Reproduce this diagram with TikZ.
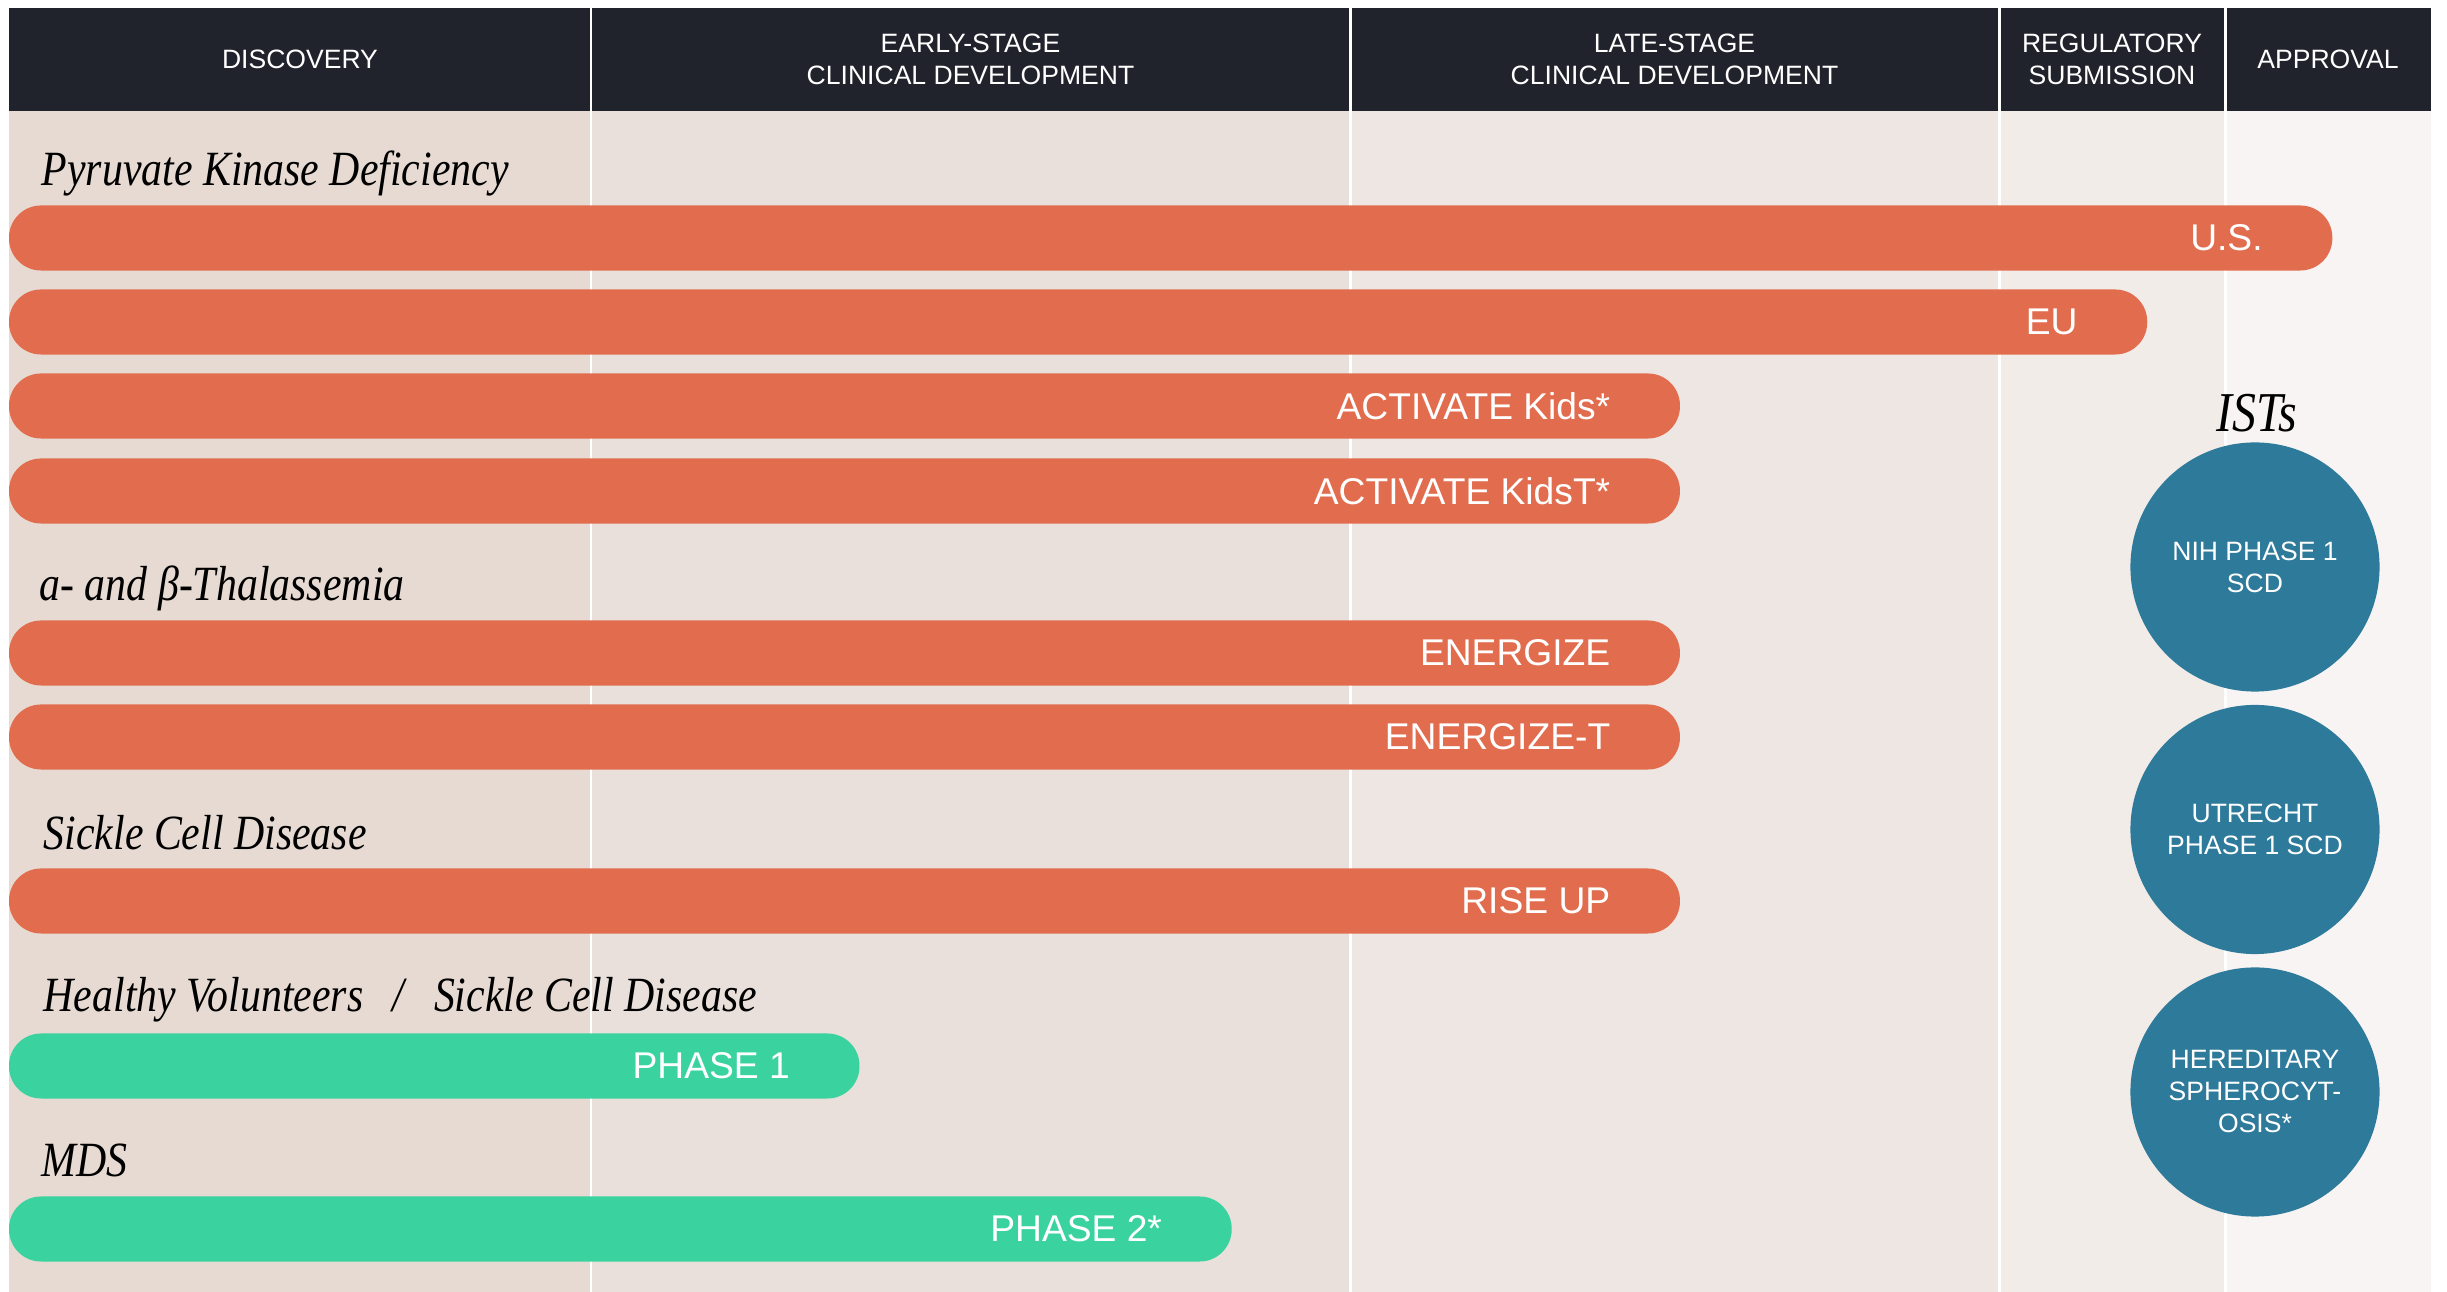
\documentclass[tikz,border=0pt]{standalone}
\usepackage{fontspec}
\setmainfont{Liberation Sans}
\newfontfamily\catfont{Liberation Serif}[FakeStretch=0.85]
\definecolor{hdr}{HTML}{20232C}
\definecolor{c1}{HTML}{E6DAD2}
\definecolor{c2}{HTML}{E9E0DB}
\definecolor{c3}{HTML}{EEE6E3}
\definecolor{c4}{HTML}{F1ECE8}
\definecolor{c5}{HTML}{F8F4F3}
\definecolor{orng}{HTML}{E26D4E}
\definecolor{grn}{HTML}{3AD39F}
\definecolor{blu}{HTML}{2E7A9B}
\begin{document}
\begin{tikzpicture}[x=0.01cm,y=-0.01cm,
  hdrtext/.style={text=white, font=\fontsize{7.55}{9.1}\selectfont, align=center, inner sep=0},
  bar/.style={rounded corners=0.32cm, minimum height=0.65cm, inner sep=0, outer sep=0, anchor=west},
  obar/.style={bar, fill=orng},
  gbar/.style={bar, fill=grn},
  barlbl/.style={anchor=east, inner sep=0, text=white, font=\fontsize{10.58}{12}\selectfont},
  cat/.style={anchor=base west, inner sep=0, font={\catfont\fontsize{14}{16}\selectfont\itshape}},
  circ/.style={circle, fill=blu, minimum size=2.49cm, inner sep=0, align=center, text=white, font=\fontsize{7.55}{9.1}\selectfont}]
\useasboundingbox (0,0) rectangle (2447,1292);
% column backgrounds
\fill[c1] (9,111) rectangle (591,1292);
\fill[c2] (591,111) rectangle (1350,1292);
\fill[c3] (1350,111) rectangle (1999,1292);
\fill[c4] (1999,111) rectangle (2225,1292);
\fill[c5] (2225,111) rectangle (2431,1292);
\fill[hdr] (9,8) rectangle (2431,111);
\foreach \x in {591,1350,1999,2225} \draw[white, line width=0.85pt] (\x,8) -- (\x,1292);
% header
\node[hdrtext] (hdisc) at (300,59.5) {DISCOVERY};
\node[hdrtext] (hearly) at (970.5,59.5) {EARLY-STAGE\\CLINICAL DEVELOPMENT};
\node[hdrtext] (hlate) at (1674.5,59.5) {LATE-STAGE\\CLINICAL DEVELOPMENT};
\node[hdrtext] (hreg) at (2112,59.5) {REGULATORY\\SUBMISSION};
\node[hdrtext] (happ) at (2328,59.5) {APPROVAL};
% categories
\node[cat] (catpk) at (41,186) {Pyruvate Kinase Deficiency};
\node[cat] (catth) at (39,601) {a- and β-Thalassemia};
\node[cat] (catsc) at (43,850) {Sickle Cell Disease};
\node[cat] (cathv) at (43,1012) {Healthy Volunteers\hspace{0.6em}/\hspace{0.6em}Sickle Cell Disease};
\node[cat] (catmds) at (41,1177) {MDS};
\node[anchor=base, inner sep=0, font={\catfont\fontsize{16}{18}\selectfont\itshape}] (ists) at (2257,432) {ISTs};
% bars
\node[obar, minimum width=23.22cm] (barus) at (9,238) {};
\node[barlbl] (lblus) at ([xshift=-0.69cm]barus.east) {U.S.};
\node[obar, minimum width=21.37cm] (bareu) at (9,322) {};
\node[barlbl] (lbleu) at ([xshift=-0.69cm]bareu.east) {EU};
\node[obar, minimum width=16.70cm] (barak) at (9,406) {};
\node[barlbl] (lblak) at ([xshift=-0.69cm]barak.east) {ACTIVATE Kids*};
\node[obar, minimum width=16.70cm] (barakt) at (9,491) {};
\node[barlbl] (lblakt) at ([xshift=-0.69cm]barakt.east) {ACTIVATE KidsT*};
\node[obar, minimum width=16.70cm] (baren) at (9,653) {};
\node[barlbl] (lblen) at ([xshift=-0.69cm]baren.east) {ENERGIZE};
\node[obar, minimum width=16.70cm] (barent) at (9,737) {};
\node[barlbl] (lblent) at ([xshift=-0.69cm]barent.east) {ENERGIZE-T};
\node[obar, minimum width=16.70cm] (barru) at (9,901) {};
\node[barlbl] (lblru) at ([xshift=-0.69cm]barru.east) {RISE UP};
\node[gbar, minimum width=8.50cm] (barp1) at (9,1066) {};
\node[barlbl] (lblp1) at ([xshift=-0.69cm]barp1.east) {PHASE 1};
\node[gbar, minimum width=12.22cm] (barp2) at (9,1229) {};
\node[barlbl] (lblp2) at ([xshift=-0.69cm]barp2.east) {PHASE 2*};
% circles
\node[circ] (nih) at (2255,567) {NIH PHASE 1\\SCD};
\node[circ] (utr) at (2255,829.5) {UTRECHT\\PHASE 1 SCD};
\node[circ] (hs) at (2255,1092) {HEREDITARY\\SPHEROCYT-\\OSIS*};
\end{tikzpicture}
\end{document}
